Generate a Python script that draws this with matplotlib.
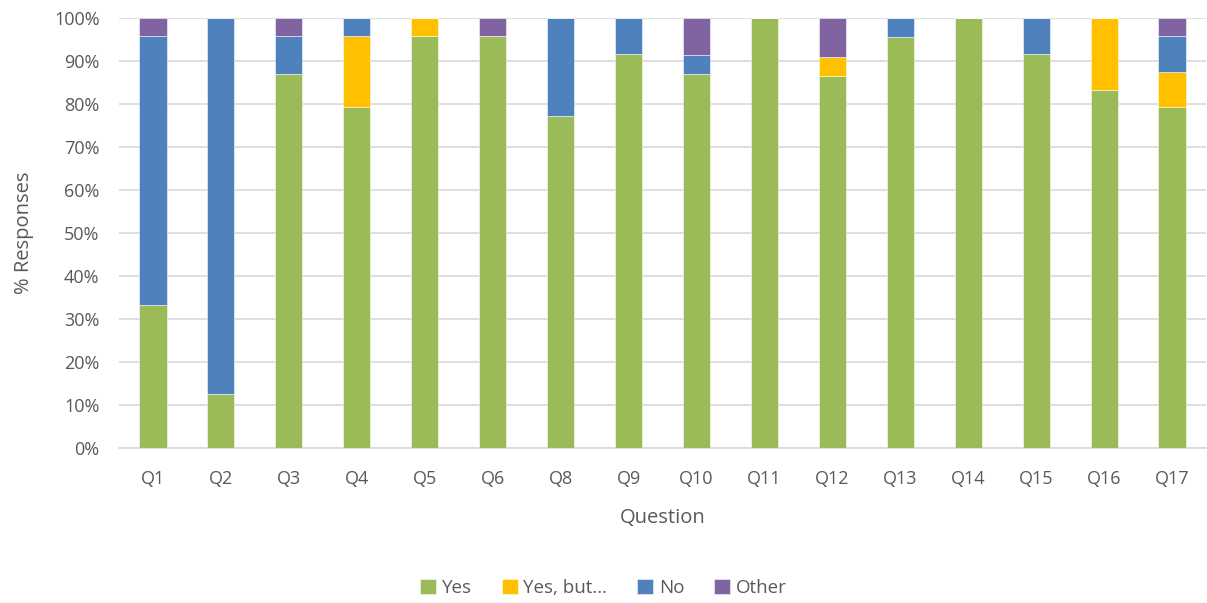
import matplotlib
matplotlib.use("Agg")
import matplotlib.pyplot as plt
import numpy as np
from matplotlib.ticker import PercentFormatter

questions = ["Q1","Q2","Q3","Q4","Q5","Q6","Q8","Q9","Q10","Q11","Q12","Q13","Q14","Q15","Q16","Q17"]
yes     = [33.3, 12.5, 87.0, 79.2, 95.8, 95.8, 77.3, 91.7, 87.0, 100.0, 86.4, 95.5, 100.0, 91.7, 83.3, 79.2]
yes_but = [0.0,  0.0,  0.0,  16.7, 4.2,  0.0,  0.0,  0.0,  0.0,  0.0,   4.5,  0.0,  0.0,   0.0,  16.7, 8.3]
no      = [62.5, 87.5, 8.7,  4.1,  0.0,  0.0,  22.7, 8.3,  4.3,  0.0,   0.0,  4.5,  0.0,   8.3,  0.0,  8.3]
other   = [4.2,  0.0,  4.3,  0.0,  0.0,  4.2,  0.0,  0.0,  8.7,  0.0,   9.1,  0.0,  0.0,   0.0,  0.0,  4.2]

series = [("Yes", yes, "#9BBB59"), ("Yes, but\u2026", yes_but, "#FFC000"),
          ("No", no, "#4F81BD"), ("Other", other, "#8064A2")]

plt.rcParams['font.family'] = ['Open Sans', 'DejaVu Sans']
txt = "#595959"

fig = plt.figure(figsize=(12.07, 6.03), dpi=100)
ax = fig.add_axes([119/1207, 155/603, 1087/1207, 430/603])

x = np.arange(len(questions))
bottom = np.zeros(len(questions))
for name, vals, col in series:
    v = np.array(vals)
    ax.bar(x, v, 0.4, bottom=bottom, color=col, label=name,
           edgecolor=(1, 1, 1, 0.6), linewidth=0.6, zorder=3)
    bottom += v

ax.set_xlim(-0.5, len(questions) - 0.5)
ax.set_ylim(0, 100)
ax.set_yticks(np.arange(0, 101, 10))
ax.yaxis.set_major_formatter(PercentFormatter(decimals=0))
ax.set_xticks(x)
ax.set_xticklabels(questions)
ax.grid(axis='y', color="#D9D9D9", linewidth=1.2, zorder=0)
for s in ["top", "right", "left"]:
    ax.spines[s].set_visible(False)
ax.spines["bottom"].set_color("#D9D9D9")
ax.spines["bottom"].set_linewidth(1.2)
ax.tick_params(axis='both', length=0, colors=txt, labelsize=13)
ax.tick_params(axis='x', pad=16)
ax.tick_params(axis='y', pad=14)
ax.set_xlabel("Question", color=txt, fontsize=14.5, labelpad=14)
ax.set_ylabel("% Responses", color=txt, fontsize=14.5, labelpad=14)

fig.legend(loc="center", bbox_to_anchor=(0.5, 1 - 588/603), ncol=4, frameon=False,
           fontsize=13.5, labelcolor=txt, handlelength=0.85, handleheight=0.85,
           handletextpad=0.3, columnspacing=1.6)

fig.savefig("out.png", dpi=100)
